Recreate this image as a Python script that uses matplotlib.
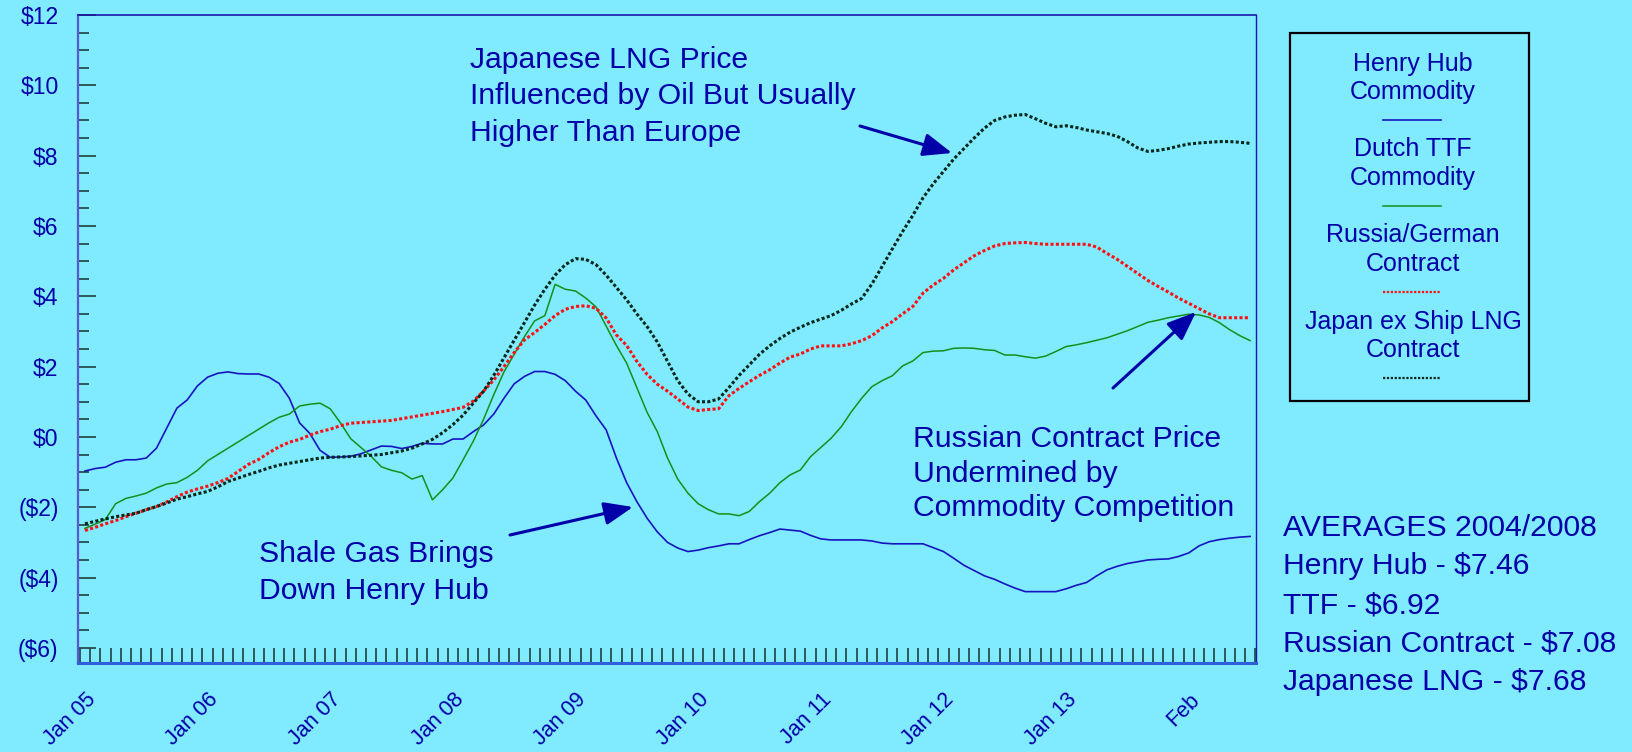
"""
Gas price spreads chart: Henry Hub, TTF, Russian contract and Japanese LNG.
"""
import numpy as np
import matplotlib
matplotlib.use('Agg')
from matplotlib import pyplot as plt
from matplotlib.lines import Line2D
from matplotlib.patches import Rectangle

# monthly values, Jan 05 .. Jul 14 ($/MMBtu, relative)
henry_hub = [
    -0.97, -0.90, -0.86, -0.72, -0.65, -0.65, -0.60, -0.32, 0.25, 0.82,
    1.05, 1.45, 1.70, 1.81, 1.85, 1.80, 1.79, 1.79, 1.70, 1.52,
    1.10, 0.40, 0.10, -0.38, -0.58, -0.57, -0.55, -0.48, -0.37, -0.26,
    -0.27, -0.33, -0.27, -0.18, -0.20, -0.20, -0.06, -0.06, 0.15, 0.34,
    0.65, 1.10, 1.51, 1.72, 1.86, 1.86, 1.78, 1.60, 1.30, 1.05,
    0.60, 0.20, -0.60, -1.30, -1.84, -2.31, -2.70, -3.00, -3.16, -3.26,
    -3.22, -3.15, -3.10, -3.04, -3.04, -2.92, -2.81, -2.72, -2.62, -2.65,
    -2.68, -2.80, -2.90, -2.93, -2.93, -2.93, -2.93, -2.96, -3.02, -3.04,
    -3.04, -3.04, -3.04, -3.15, -3.26, -3.45, -3.65, -3.80, -3.95, -4.05,
    -4.18, -4.30, -4.40, -4.40, -4.40, -4.40, -4.32, -4.22, -4.14, -3.95,
    -3.78, -3.68, -3.60, -3.55, -3.50, -3.48, -3.47, -3.40, -3.30, -3.10,
    -2.98, -2.92, -2.88, -2.85, -2.83,
]
dutch_ttf = [
    -2.60, -2.48, -2.35, -1.90, -1.75, -1.68, -1.60, -1.45, -1.34, -1.30,
    -1.15, -0.95, -0.68, -0.50, -0.32, -0.14, 0.04, 0.22, 0.40, 0.56,
    0.65, 0.88, 0.93, 0.96, 0.80, 0.40, -0.05, -0.30, -0.55, -0.85,
    -0.95, -1.02, -1.20, -1.10, -1.79, -1.50, -1.17, -0.65, -0.12, 0.50,
    1.20, 1.85, 2.35, 2.85, 3.30, 3.45, 4.34, 4.20, 4.15, 3.95,
    3.70, 3.15, 2.60, 2.10, 1.40, 0.70, 0.15, -0.60, -1.20, -1.60,
    -1.90, -2.07, -2.19, -2.19, -2.24, -2.12, -1.84, -1.60, -1.30, -1.08,
    -0.94, -0.56, -0.30, -0.04, 0.29, 0.72, 1.10, 1.43, 1.60, 1.74,
    2.02, 2.16, 2.40, 2.44, 2.45, 2.52, 2.53, 2.52, 2.48, 2.46,
    2.33, 2.33, 2.28, 2.24, 2.30, 2.43, 2.57, 2.62, 2.68, 2.75,
    2.82, 2.92, 3.02, 3.14, 3.26, 3.32, 3.39, 3.44, 3.49, 3.47,
    3.40, 3.25, 3.05, 2.88, 2.74,
]
russia_german = [
    -2.66, -2.57, -2.47, -2.38, -2.27, -2.17, -2.07, -1.98, -1.85, -1.70,
    -1.57, -1.48, -1.40, -1.30, -1.18, -0.98, -0.78, -0.64, -0.45, -0.28,
    -0.15, -0.07, 0.05, 0.15, 0.22, 0.32, 0.39, 0.41, 0.43, 0.45,
    0.47, 0.52, 0.57, 0.62, 0.67, 0.72, 0.78, 0.84, 1.02, 1.30,
    1.62, 2.00, 2.40, 2.76, 2.97, 3.20, 3.45, 3.63, 3.71, 3.73,
    3.66, 3.38, 2.90, 2.60, 2.15, 1.78, 1.50, 1.30, 1.08, 0.85,
    0.75, 0.78, 0.80, 1.17, 1.38, 1.57, 1.75, 1.91, 2.10, 2.27,
    2.36, 2.50, 2.59, 2.59, 2.59, 2.65, 2.74, 2.88, 3.10, 3.28,
    3.50, 3.71, 4.09, 4.32, 4.51, 4.75, 4.95, 5.15, 5.30, 5.43,
    5.50, 5.52, 5.53, 5.50, 5.48, 5.48, 5.48, 5.48, 5.48, 5.40,
    5.22, 5.05, 4.85, 4.65, 4.45, 4.28, 4.12, 3.95, 3.80, 3.65,
    3.50, 3.39, 3.39, 3.39, 3.39,
]
japan_lng = [
    -2.47, -2.40, -2.33, -2.27, -2.22, -2.17, -2.07, -1.98, -1.88, -1.77,
    -1.70, -1.62, -1.55, -1.42, -1.27, -1.17, -1.07, -0.98, -0.88, -0.80,
    -0.75, -0.70, -0.65, -0.60, -0.58, -0.57, -0.56, -0.54, -0.52, -0.50,
    -0.45, -0.40, -0.32, -0.20, -0.07, 0.12, 0.35, 0.62, 0.96, 1.30,
    1.75, 2.25, 2.75, 3.25, 3.75, 4.20, 4.60, 4.90, 5.07, 5.05,
    4.90, 4.60, 4.25, 3.90, 3.50, 3.14, 2.70, 2.15, 1.60, 1.22,
    1.00, 1.00, 1.08, 1.40, 1.75, 2.05, 2.35, 2.59, 2.80, 2.98,
    3.12, 3.25, 3.35, 3.45, 3.60, 3.78, 3.94, 4.35, 4.85, 5.35,
    5.84, 6.30, 6.80, 7.20, 7.55, 7.90, 8.20, 8.50, 8.78, 9.00,
    9.10, 9.15, 9.17, 9.05, 8.92, 8.82, 8.85, 8.80, 8.73, 8.68,
    8.63, 8.55, 8.40, 8.22, 8.12, 8.15, 8.20, 8.27, 8.33, 8.36,
    8.38, 8.40, 8.40, 8.38, 8.35,
]

x_labels = ['Jan 05', 'Jan 06', 'Jan 07', 'Jan 08', 'Jan 09', 'Jan 10',
            'Jan 11', 'Jan 12', 'Jan 13', 'Feb']
y_ticks = [-6, -4, -2, 0, 2, 4, 6, 8, 10, 12]
y_labels = ['($6)', '($4)', '($2)', '$0', '$2', '$4', '$6', '$8', '$10', '$12']

series_names = ['Henry Hub\nCommodity', 'Dutch TTF\nCommodity',
                'Russia/German\nContract', 'Japan ex Ship LNG\nContract']
averages = ['AVERAGES 2004/2008', 'Henry Hub - $7.46', 'TTF - $6.92',
            'Russian Contract - $7.08', 'Japanese LNG - $7.68']

BG = '#80EAFF'
NAVY = '#0000A8'
W, H = 1632, 752

plt.rcParams['font.family'] = ['Liberation Sans', 'DejaVu Sans']


def fx(x):
    return x / W


def fy(y):
    return 1 - y / H


fig = plt.figure(figsize=(W / 100, H / 100), dpi=100, facecolor=BG)
ax = fig.add_axes([fx(78), fy(663), fx(1256 - 78), (663 - 15) / H])
ax.set_facecolor(BG)

months = np.arange(len(henry_hub))
styles = [
    dict(color='#1515C0', lw=1.2),
    dict(color='#14901A', lw=1.1),
    dict(color='#FF1010', lw=2.2, dashes=(1, 0.75)),
    dict(color='#06281A', lw=2.2, dashes=(1, 0.75)),
]
for vals, st in zip([henry_hub, dutch_ttf, russia_german, japan_lng], styles):
    ax.plot(months, vals, **st)

ax.set_xlim(-0.68, 114.58)
ax.set_ylim(-6.43, 12)

# y axis
ax.set_yticks(y_ticks)
ax.set_yticklabels(y_labels)
ax.set_yticks(np.arange(-6, 12, 0.5), minor=True)
ax.tick_params(axis='y', which='major', direction='in', length=13, width=1.2,
               color='#1F4040', pad=14, labelsize=16.5, labelcolor=NAVY)
ax.tick_params(axis='y', which='minor', direction='in', length=8, width=1.2,
               color='#1F4040')

# x axis
ax.set_xticks([12 * i for i in range(len(x_labels))])
ax.set_xticklabels(x_labels, rotation=45, ha='right', va='top',
                   rotation_mode='anchor')
ax.set_xticks(np.arange(len(henry_hub) + 1) - 0.5, minor=True)
ax.tick_params(axis='x', which='major', direction='in', length=0, pad=19,
               labelsize=15.5, labelcolor=NAVY)
ax.tick_params(axis='x', which='minor', direction='in', length=11, width=1.2,
               color='#1F4040')

ax.spines['left'].set_color('#5A5AD0')
ax.spines['left'].set_linewidth(1.6)
ax.spines['bottom'].set_color('#2F5FD8')
ax.spines['bottom'].set_linewidth(2.2)
ax.spines['top'].set_color('#1818A8')
ax.spines['top'].set_linewidth(1.2)
ax.spines['right'].set_color('#1818A8')
ax.spines['right'].set_linewidth(1.0)

# annotations
notes = [
    (470, 57, 36.5, ['Japanese LNG Price', 'Influenced by Oil But Usually',
                     'Higher Than Europe']),
    (259, 551, 37, ['Shale Gas Brings', 'Down Henry Hub']),
    (913, 436, 34.5, ['Russian Contract Price', 'Undermined by',
                      'Commodity Competition']),
    (1283, 525, 38.5, averages),
]
for x0, y0, step, lines in notes:
    for i, line in enumerate(lines):
        fig.text(fx(x0), fy(y0 + i * step), line, fontsize=21.7, color=NAVY,
                 ha='left', va='center_baseline')

arrows = [((860, 126), (952, 153)), ((510, 535), (633, 507)),
          ((1113, 388), (1196, 312))]
for tail, head in arrows:
    ax.annotate('', xy=(head[0], H - head[1]), xytext=(tail[0], H - tail[1]),
                xycoords='figure pixels', textcoords='figure pixels',
                arrowprops=dict(arrowstyle='-|>,head_length=0.8,head_width=0.32',
                                color=NAVY, lw=2.2, mutation_scale=22,
                                shrinkA=0, shrinkB=0))

# legend box
fig.add_artist(Rectangle((fx(1290), fy(401)), fx(1529 - 1290), (401 - 33) / H,
                         transform=fig.transFigure, fill=False,
                         edgecolor='black', lw=1.6))
for i, (name, st) in enumerate(zip(series_names, styles)):
    top = 61 + i * 86
    for j, part in enumerate(name.split('\n')):
        fig.text(fx(1413), fy(top + j * 28.5), part, fontsize=18, color=NAVY,
                 ha='center', va='center_baseline')
    ly = fy(top + 58.5)
    kw = dict(st)
    kw['lw'] = min(kw['lw'], 1.6)
    fig.add_artist(Line2D([fx(1383), fx(1441)], [ly, ly],
                          transform=fig.transFigure, **kw))

fig.savefig('out.png', dpi=100, facecolor=BG)
